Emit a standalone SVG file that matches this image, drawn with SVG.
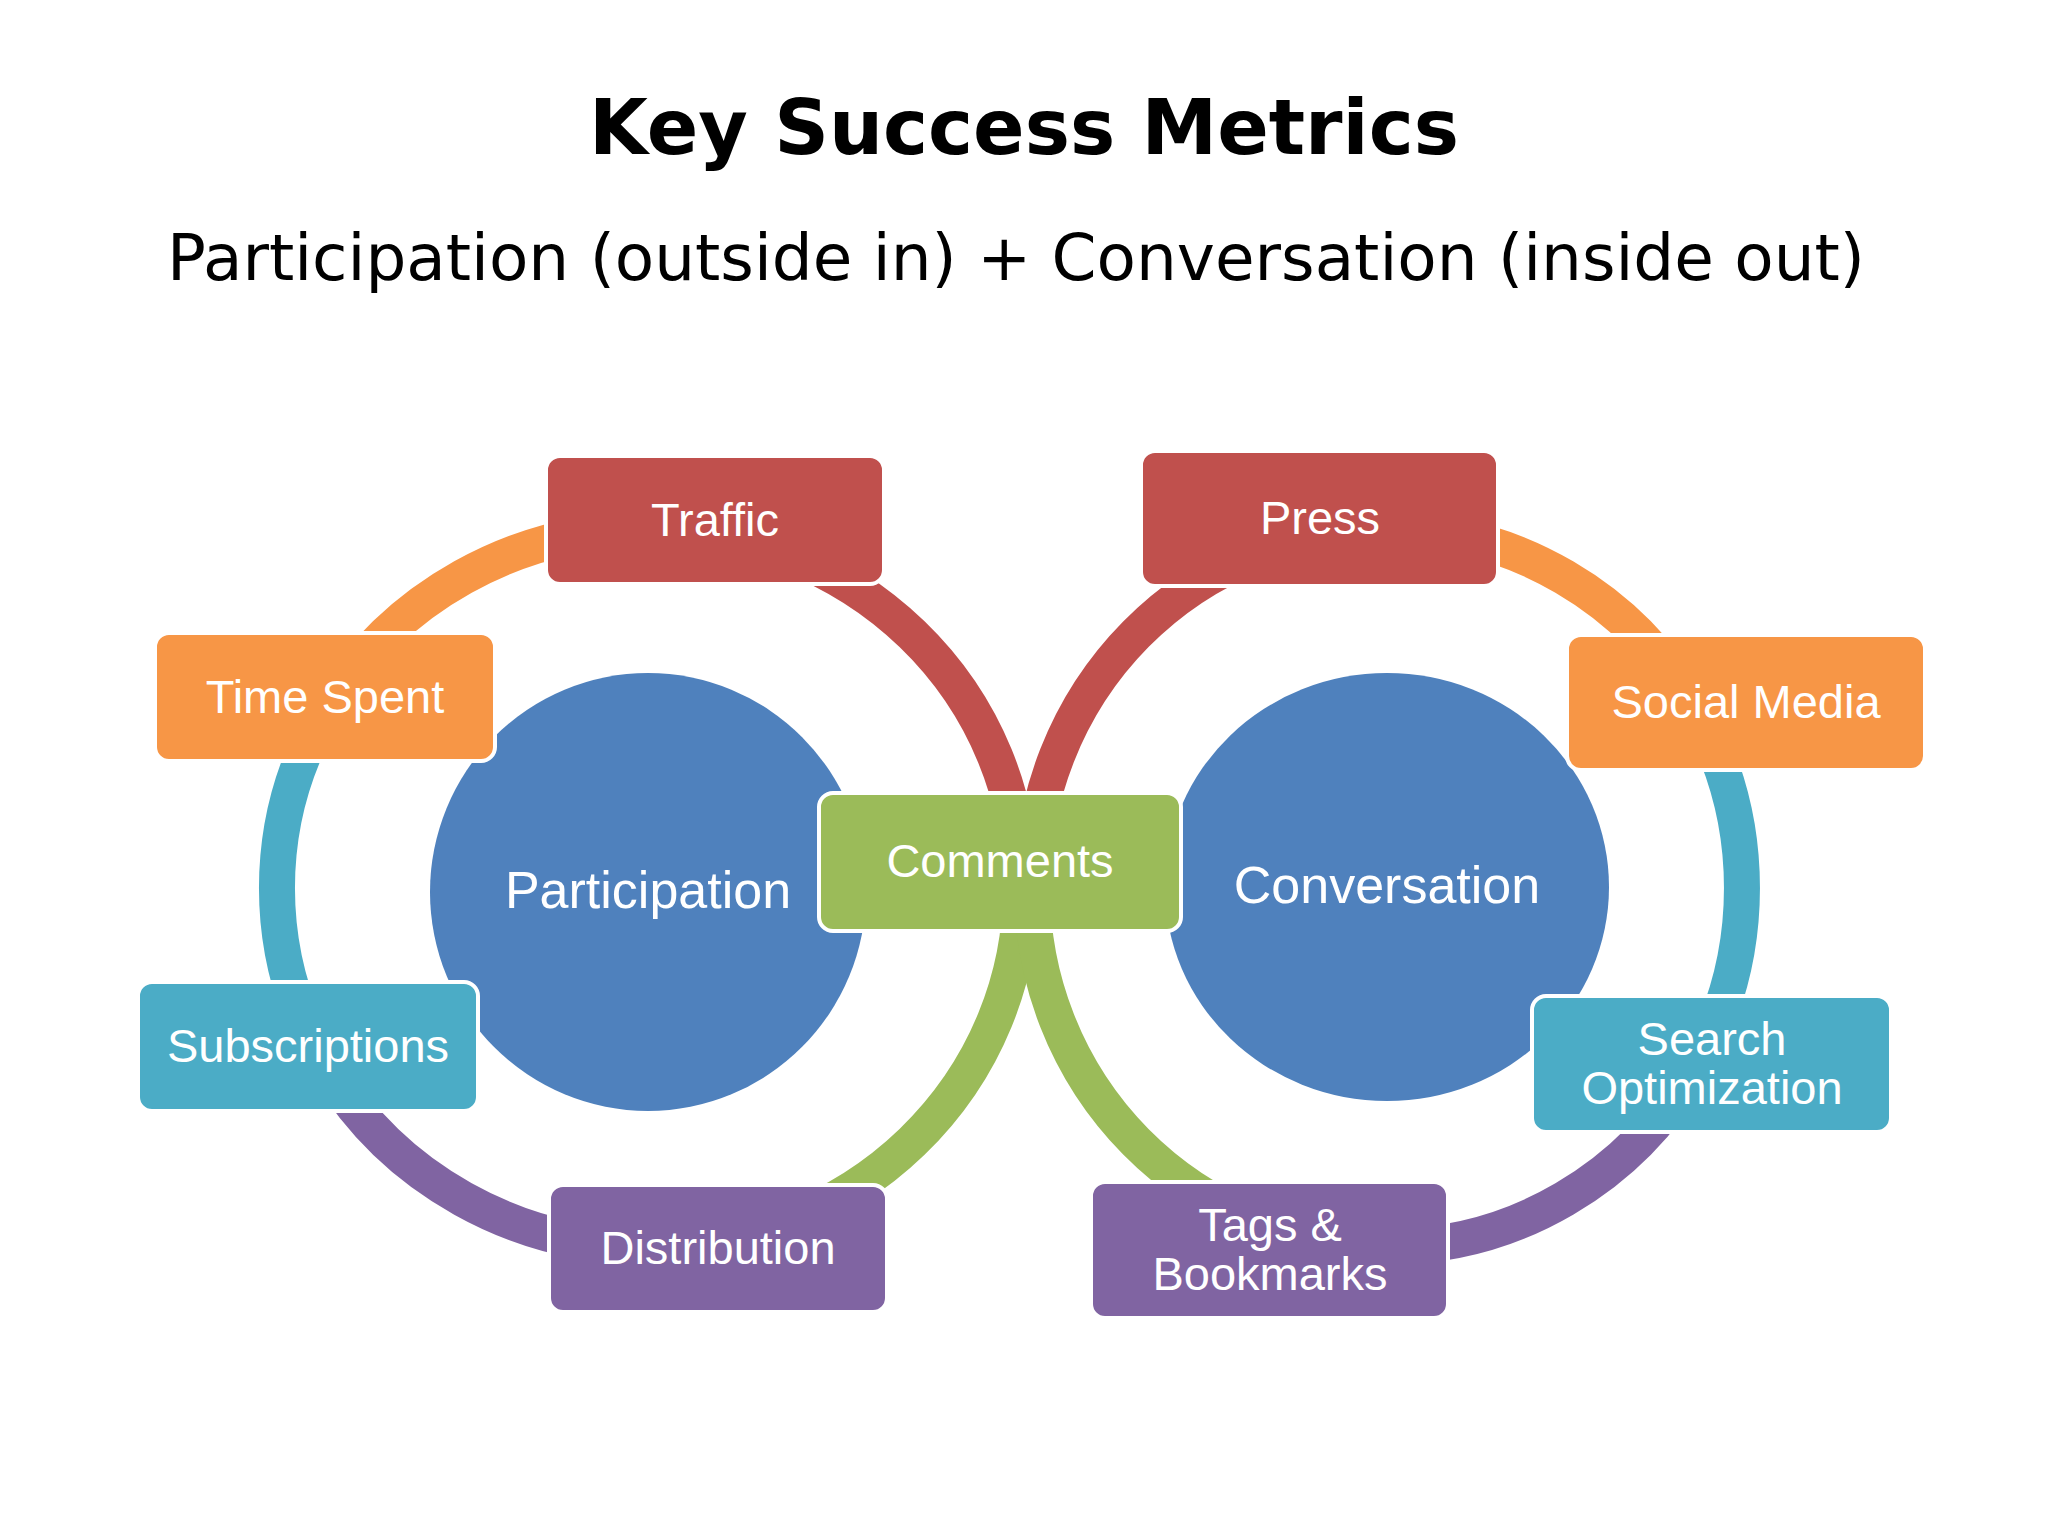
<svg xmlns="http://www.w3.org/2000/svg" width="2048" height="1536" viewBox="0 0 2048 1536">
<style>
.t{font-family:"Liberation Sans",Arial,sans-serif;fill:#fff;text-anchor:middle;font-size:47px}
.c{font-family:"Liberation Sans",Arial,sans-serif;fill:#fff;text-anchor:middle;font-size:52px}
.r{fill:none;stroke-width:36}
.b{stroke:#fff;stroke-width:4}
</style>
<rect width="2048" height="1536" fill="#fff"/>
<text x="1024" y="154" font-family="'DejaVu Sans',sans-serif" font-weight="bold" font-size="76" text-anchor="middle">Key Success Metrics</text>
<text x="1016" y="280" font-family="'DejaVu Sans',sans-serif" font-size="64" text-anchor="middle" textLength="1698" lengthAdjust="spacingAndGlyphs">Participation (outside in) + Conversation (inside out)</text>
<g id="circles">
<g id="participation"><ellipse cx="648" cy="892" rx="218" ry="219" fill="#4F81BD"/><text class="c" x="648" y="908">Participation</text></g>
<g id="conversation"><ellipse cx="1387" cy="887" rx="222" ry="214" fill="#4F81BD"/><text class="c" x="1387" y="903">Conversation</text></g>
</g>
<g id="connectors">
<path class="r" stroke="#C0504D" d="M649,529 A372,359 0 0 1 1021,888"/>
<path class="r" stroke="#9BBB59" d="M1021,888 A372,359 0 0 1 649,1247"/>
<path class="r" stroke="#8064A2" d="M649,1247 A372,359 0 0 1 326.8,1067.5"/>
<path class="r" stroke="#4BACC6" d="M326.8,1067.5 A372,359 0 0 1 326.8,708.5"/>
<path class="r" stroke="#F79646" d="M326.8,708.5 A372,359 0 0 1 649,529"/>
<path class="r" stroke="#C0504D" d="M1032,888 A355,359 0 0 1 1387,529"/>
<path class="r" stroke="#F79646" d="M1387,529 A355,359 0 0 1 1694.4,708.5"/>
<path class="r" stroke="#4BACC6" d="M1694.4,708.5 A355,359 0 0 1 1694.4,1067.5"/>
<path class="r" stroke="#8064A2" d="M1694.4,1067.5 A355,359 0 0 1 1387,1247"/>
<path class="r" stroke="#9BBB59" d="M1387,1247 A355,359 0 0 1 1032,888"/>
</g>
<g id="traffic"><rect class="b" x="546" y="456" width="338" height="128" rx="14" fill="#C0504D"/><text class="t" x="715" y="536">Traffic</text></g>
<g id="press"><rect class="b" x="1141" y="451" width="357" height="135" rx="14" fill="#C0504D"/><text class="t" x="1320" y="534">Press</text></g>
<g id="time-spent"><rect class="b" x="155" y="633" width="340" height="128" rx="14" fill="#F79646"/><text class="t" x="325" y="713">Time Spent</text></g>
<g id="social-media"><rect class="b" x="1567" y="635" width="358" height="135" rx="14" fill="#F79646"/><text class="t" x="1746" y="718">Social Media</text></g>
<g id="comments"><rect class="b" x="819" y="793" width="362" height="138" rx="14" fill="#9BBB59"/><text class="t" x="1000" y="877">Comments</text></g>
<g id="subscriptions"><rect class="b" x="138" y="982" width="340" height="129" rx="14" fill="#4BACC6"/><text class="t" x="308" y="1062">Subscriptions</text></g>
<g id="search"><rect class="b" x="1532" y="996" width="359" height="136" rx="14" fill="#4BACC6"/><text class="t" x="1712" y="1055">Search</text><text class="t" x="1712" y="1104">Optimization</text></g>
<g id="distribution"><rect class="b" x="549" y="1185" width="338" height="127" rx="14" fill="#8064A2"/><text class="t" x="718" y="1264">Distribution</text></g>
<g id="tags"><rect class="b" x="1091" y="1182" width="357" height="136" rx="14" fill="#8064A2"/><text class="t" x="1270" y="1241">Tags &amp;</text><text class="t" x="1270" y="1290">Bookmarks</text></g>
</svg>
